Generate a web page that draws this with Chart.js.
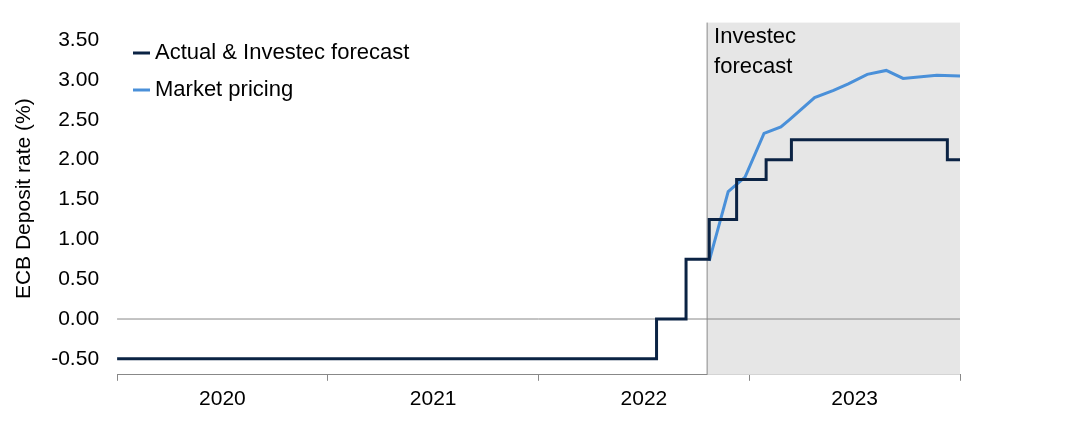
<!DOCTYPE html>
<html><head><meta charset="utf-8">
<script src="https://cdn.jsdelivr.net/npm/chart.js@4"></script>
<style>body{margin:0;background:#fff}#wrap{width:1088px;height:422px}</style>
</head><body><div id="wrap"><canvas id="c"></canvas></div>
<script>
const years = ['2020', '2021', '2022', '2023'];
const yTicks = [-0.5, 0, 0.5, 1, 1.5, 2, 2.5, 3, 3.5];
const actualX = [2020.0, 2022.56, 2022.56, 2022.70, 2022.70, 2022.81, 2022.81, 2022.94, 2022.94, 2023.08, 2023.08, 2023.20, 2023.20, 2023.94, 2023.94, 2024.0];
const actualY = [-0.5, -0.5, 0, 0, 0.75, 0.75, 1.25, 1.25, 1.75, 1.75, 2.0, 2.0, 2.25, 2.25, 2.0, 2.0];
const marketX = [2022.81, 2022.90, 2022.98, 2023.07, 2023.15, 2023.19, 2023.31, 2023.40, 2023.47, 2023.56, 2023.65, 2023.73, 2023.89, 2024.0];
const marketY = [0.73, 1.60, 1.78, 2.33, 2.41, 2.50, 2.78, 2.87, 2.95, 3.07, 3.12, 3.02, 3.06, 3.05];
const forecastStart = 2022.80;

const font = "'Liberation Sans', Arial, sans-serif";
Chart.defaults.font.family = font;
Chart.defaults.font.size = 21;
Chart.defaults.color = '#000';

const overlay = {
  id: 'overlay',
  beforeDatasetsDraw(chart) {
    const {ctx, chartArea: a, scales: {x, y}} = chart;
    const x0 = x.getPixelForValue(forecastStart);
    ctx.save();
    ctx.fillStyle = '#e6e6e6';
    ctx.fillRect(x0, a.top, a.right - x0, a.bottom - a.top);
    ctx.strokeStyle = '#888';
    ctx.lineWidth = 1;
    ctx.beginPath(); ctx.moveTo(x0, a.top); ctx.lineTo(x0, a.bottom); ctx.stroke();
    const y0 = y.getPixelForValue(0);
    ctx.beginPath(); ctx.moveTo(a.left, y0); ctx.lineTo(a.right, y0); ctx.stroke();
    ctx.fillStyle = '#000';
    ctx.font = '22px ' + font;
    ctx.textBaseline = 'top';
    ctx.fillText('Investec', x0 + 7, a.top + 3);
    ctx.fillText('forecast', x0 + 7, a.top + 33);
    const items = [['Actual & Investec forecast', '#0b2344'], ['Market pricing', '#4a90d9']];
    items.forEach((it, i) => {
      const ly = 53 + i * 37;
      ctx.strokeStyle = it[1]; ctx.lineWidth = 3;
      ctx.beginPath(); ctx.moveTo(133, ly); ctx.lineTo(150, ly); ctx.stroke();
      ctx.textBaseline = 'middle';
      ctx.fillText(it[0], 155, ly);
    });
    ctx.restore();
  }
};

new Chart(document.getElementById('c'), {
  type: 'line',
  data: {
    datasets: [
      {data: actualX.map((v, i) => ({x: v, y: actualY[i]})), borderColor: '#0b2344', borderWidth: 3, pointRadius: 0, tension: 0},
      {data: marketX.map((v, i) => ({x: v, y: marketY[i]})), borderColor: '#4a90d9', borderWidth: 3, pointRadius: 0, tension: 0}
    ]
  },
  options: {
    responsive: true, maintainAspectRatio: false, animation: false,
    layout: {padding: {top: 10, right: 128, left: 8, bottom: 4}},
    plugins: {legend: {display: false}, tooltip: {enabled: false}},
    scales: {
      x: {
        type: 'linear', min: 2020, max: 2024,
        afterBuildTicks: s => { s.ticks = []; for (let v = 2020; v <= 2024; v += 0.5) s.ticks.push({value: v}); },
        ticks: {autoSkip: false, maxRotation: 0, padding: 6,
          callback: v => (v % 1 === 0.5) ? years[Math.floor(v) - 2020] : ''},
        grid: {display: true, drawOnChartArea: false, tickLength: 6,
          color: c => (c.tick && c.tick.value % 1 === 0) ? '#888' : 'rgba(0,0,0,0)'},
        border: {color: '#888'}
      },
      y: {
        min: -0.7, max: 3.72,
        afterBuildTicks: s => { s.ticks = yTicks.map(v => ({value: v})); },
        ticks: {autoSkip: false, padding: 10, callback: v => v.toFixed(2)},
        grid: {display: false},
        border: {display: false},
        title: {display: true, text: 'ECB Deposit rate (%)', font: {size: 21}}
      }
    }
  },
  plugins: [overlay]
});
</script></body></html>
